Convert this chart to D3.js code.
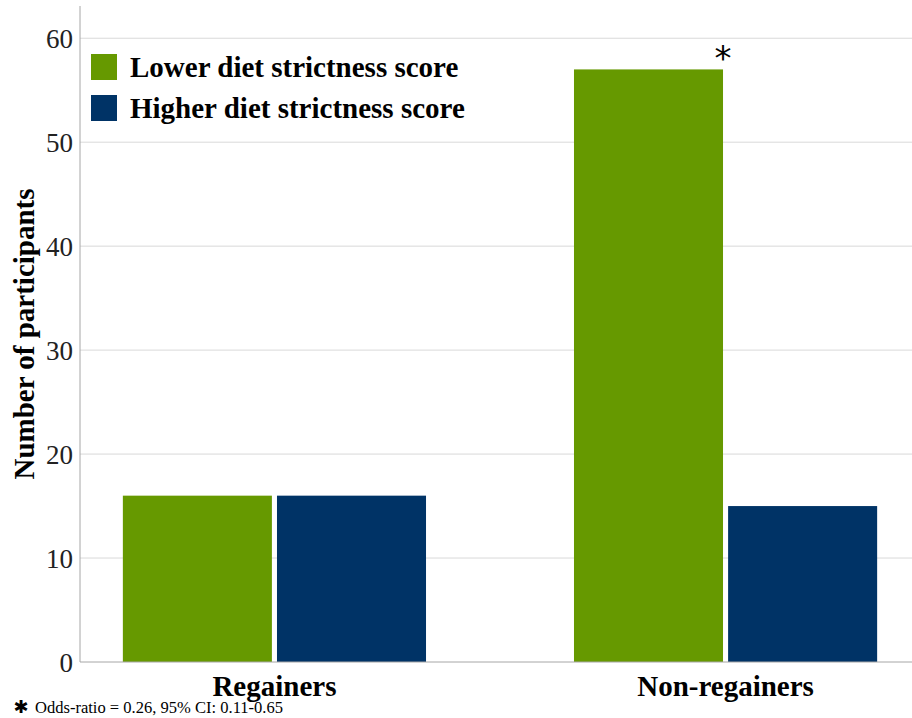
<!DOCTYPE html>
<html>
<head>
<meta charset="utf-8">
<script src="https://cdnjs.cloudflare.com/ajax/libs/d3/7.8.5/d3.min.js"></script>
<style>
body { margin: 0; background: #fff; }
svg { display: block; font-family: "Liberation Serif", "Times New Roman", serif; }
</style>
</head>
<body>
<div id="chart"></div>
<script>
// data
const groups = ["Regainers", "Non-regainers"]
const seriesNames = ["Lower diet strictness score", "Higher diet strictness score"]
const lowerScore = [16, 57]
const higherScore = [16, 15]
const yTicks = [0, 10, 20, 30, 40, 50, 60]
const colors = ["#669900", "#003366"]

const width = 912, height = 718
const margin = {top: 6, left: 80, bottom: 56}

const svg = d3.select('#chart').append('svg').attr("width", width).attr("height", height)

const y = d3.scaleLinear().domain([0, 63.1]).range([height - margin.bottom, margin.top])
const x0 = d3.scaleBand().domain(groups).range([margin.left, 920]).paddingInner(0.328).paddingOuter(0.095)
const x1 = d3.scaleBand().domain([0, 1]).range([0, x0.bandwidth()]).paddingInner(0.033)

// gridlines
svg.append('g')
  .selectAll('line')
  .data(yTicks.filter(d => d > 0))
  .enter().append('line')
  .attr("x1", margin.left).attr("x2", width)
  .attr("y1", d => y(d)).attr("y2", d => y(d))
  .attr("stroke", "#d9d9d9").attr("stroke-width", 1)

// bars
const rows = groups.map((g, i) => ({group: g, values: [lowerScore[i], higherScore[i]]}))
const gBars = svg.selectAll('g.grp').data(rows).enter().append('g')
  .attr("class", "grp")
  .attr("transform", d => `translate(${x0(d.group)},0)`)

gBars.selectAll('rect')
  .data(d => d.values.map((v, k) => ({k: k, v: v})))
  .enter().append('rect')
  .attr("x", d => x1(d.k))
  .attr("width", x1.bandwidth())
  .attr("y", d => y(d.v))
  .attr("height", d => y(0) - y(d.v))
  .attr("fill", d => colors[d.k])

// axes
const axisLeft = d3.axisLeft(y).tickValues(yTicks).tickSize(0).tickPadding(7)
const yAxis = svg.append('g').attr("transform", `translate(${margin.left},0)`).call(axisLeft)
yAxis.select(".domain").remove()
yAxis.selectAll("text").attr("font-size", 27).attr("font-family", "Liberation Serif").attr("fill", "#222").attr("dy", "0.36em")

svg.append('line')
  .attr("x1", margin.left).attr("x2", margin.left)
  .attr("y1", margin.top).attr("y2", y(0))
  .attr("stroke", "#a6a6a6").attr("stroke-width", 1)
svg.append('line')
  .attr("x1", margin.left).attr("x2", width)
  .attr("y1", y(0)).attr("y2", y(0))
  .attr("stroke", "#a6a6a6").attr("stroke-width", 1)

// x labels
svg.selectAll('text.xlab')
  .data(groups)
  .enter().append('text')
  .attr("class", "xlab")
  .attr("x", d => x0(d) + x0.bandwidth() / 2)
  .attr("y", 696)
  .attr("text-anchor", "middle")
  .attr("font-size", 29).attr("font-weight", "bold")
  .text(d => d)

// y title
svg.append('text')
  .attr("transform", `translate(34,${(margin.top + y(0)) / 2}) rotate(-90)`)
  .attr("text-anchor", "middle")
  .attr("font-size", 29).attr("font-weight", "bold")
  .text("Number of participants")

// legend
const legend = svg.append('g').attr("transform", "translate(91,54)")
seriesNames.forEach(function (name, i) {
  legend.append('rect').attr("x", 0).attr("y", i * 41).attr("width", 26).attr("height", 26).attr("fill", colors[i])
  legend.append('text').attr("x", 39).attr("y", i * 41 + 23)
    .attr("font-size", 29).attr("font-weight", "bold").text(name)
})

// significance star
svg.append('text')
  .attr("x", x0("Non-regainers") + x1(0) + x1.bandwidth())
  .attr("y", y(lowerScore[1]) + 1)
  .attr("text-anchor", "middle")
  .attr("font-size", 34).attr("font-family", "DejaVu Sans")
  .text("*")

// footnote
svg.append('text').attr("x", 21).attr("y", 713)
  .attr("text-anchor", "middle")
  .attr("font-size", 18).attr("font-family", "DejaVu Sans")
  .text("\u2731")
svg.append('text').attr("x", 35).attr("y", 713)
  .attr("font-size", 16.5)
  .attr("textLength", 248).attr("lengthAdjust", "spacingAndGlyphs")
  .text("Odds-ratio = 0.26, 95% CI: 0.11-0.65")
</script>
</body>
</html>
